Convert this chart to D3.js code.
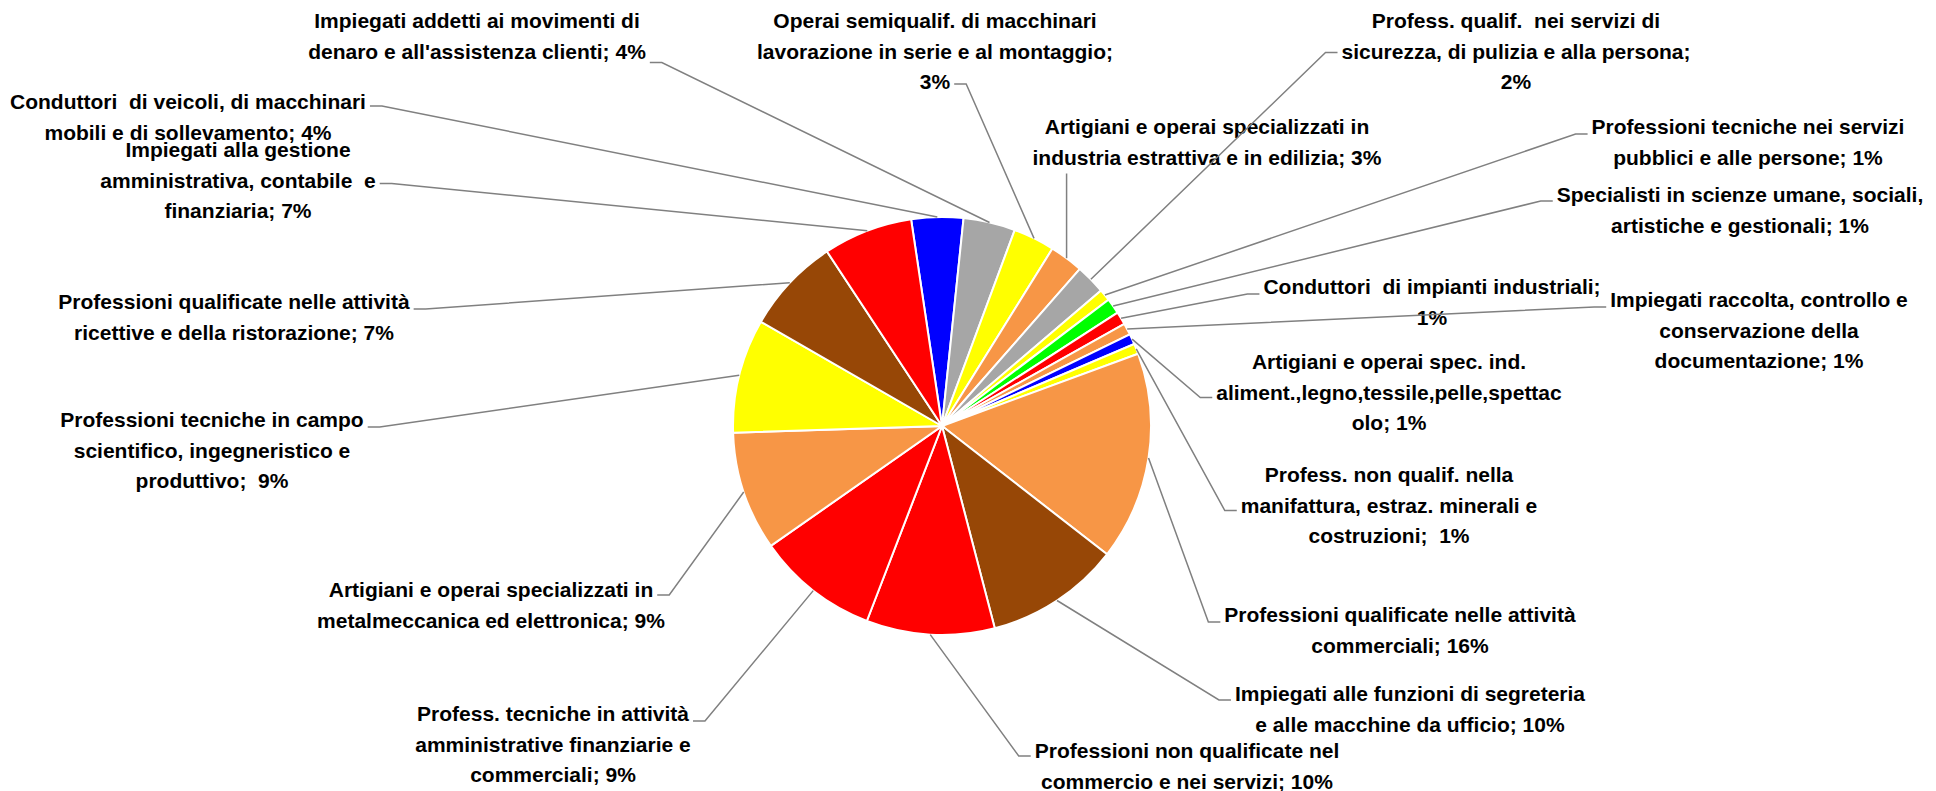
<!DOCTYPE html>
<html>
<head>
<meta charset="utf-8">
<script src="https://cdn.jsdelivr.net/npm/d3@7"></script>
<style>
  body { margin: 0; background: #fff; }
  .lbl { font-family: "Liberation Sans", Arial, sans-serif; font-weight: bold; font-size: 21px; fill: #000; white-space: pre; }
</style>
</head>
<body>
<svg id="chart" width="1936" height="791"></svg>
<script>
// categories, wrapped as in the original labels (the percentage is appended to the last line)
var labelLines = [
    ["Conduttori  di veicoli, di macchinari", "mobili e di sollevamento; "],
    ["Impiegati addetti ai movimenti di", "denaro e all'assistenza clienti; "],
    ["Operai semiqualif. di macchinari", "lavorazione in serie e al montaggio;", ""],
    ["Artigiani e operai specializzati in", "industria estrattiva e in edilizia; "],
    ["Profess. qualif.  nei servizi di", "sicurezza, di pulizia e alla persona;", ""],
    ["Professioni tecniche nei servizi", "pubblici e alle persone; "],
    ["Specialisti in scienze umane, sociali,", "artistiche e gestionali; "],
    ["Conduttori  di impianti industriali;", ""],
    ["Impiegati raccolta, controllo e", "conservazione della", "documentazione; "],
    ["Artigiani e operai spec. ind.", "aliment.,legno,tessile,pelle,spettac", "olo; "],
    ["Profess. non qualif. nella", "manifattura, estraz. minerali e", "costruzioni;  "],
    ["Professioni qualificate nelle attività", "commerciali; "],
    ["Impiegati alle funzioni di segreteria", "e alle macchine da ufficio; "],
    ["Professioni non qualificate nel", "commercio e nei servizi; "],
    ["Profess. tecniche in attività", "amministrative finanziarie e", "commerciali; "],
    ["Artigiani e operai specializzati in", "metalmeccanica ed elettronica; "],
    ["Professioni tecniche in campo", "scientifico, ingegneristico e", "produttivo;  "],
    ["Professioni qualificate nelle attività", "ricettive e della ristorazione; "],
    ["Impiegati alla gestione", "amministrativa, contabile  e", "finanziaria; "]
];

// share of each category (%)
var shares = [4.0, 4.0, 3.2, 2.6, 2.3, 0.9, 1.2, 1.0, 0.9, 0.8, 0.8,
              16.1, 10.4, 9.9, 9.4, 9.2, 8.8, 7.4, 6.9];

var sliceColors = ["#0000FF", "#A6A6A6", "#FFFF00", "#F79646", "#A6A6A6", "#FFFF00", "#00FF00",
                   "#FF0000", "#F79646", "#0000FF", "#FFFF00", "#F79646", "#974706", "#FF0000",
                   "#FF0000", "#F79646", "#FFFF00", "#974706", "#FF0000"];

// label placement: centre x, first line centre y, side the leader attaches to, line used, y offset
var labelPos = [
    [188, 102, "R", 0, 4],
    [477, 21, "R", 1, 11],
    [935, 21, "R", 2, 2],
    [1207, 127, "B", 1, 0],
    [1516, 21, "L", 1, 1],
    [1748, 127, "L", 0, 7],
    [1740, 195, "L", 0, 6],
    [1432, 287, "L", 0, 7],
    [1759, 300, "L", 0, 7],
    [1389, 362, "L", 1, 5],
    [1389, 475, "L", 1, 5],
    [1400, 615, "L", 0, 7],
    [1410, 694, "L", 0, 6],
    [1187, 751, "L", 0, 5],
    [553, 714, "R", 0, 7],
    [491, 590, "R", 0, 5],
    [212, 420, "R", 0, 7],
    [234, 302, "R", 0, 7],
    [238, 150, "R", 1, 3]
];

var svg = d3.select("#chart"),
    cx = 942,
    cy = 426,
    radius = 209,
    lineH = 30.5;

var start = -8.5 * Math.PI / 180;
var pie = d3.pie().sort(null).startAngle(start).endAngle(start + 2 * Math.PI);
var arc = d3.arc().innerRadius(0).outerRadius(radius);
var arcs = pie(shares);
var total = d3.sum(shares);

var gPie = svg.append("g").attr("transform", "translate(" + cx + "," + cy + ")");

gPie.selectAll("path")
    .data(arcs)
    .enter().append("path")
    .attr("d", arc)
    .style("fill", function (d, i) { return sliceColors[i]; })
    .style("stroke", "#fff")
    .style("stroke-width", 2);

// labels
var gLabels = svg.append("g");
var gLines = svg.append("g");

arcs.forEach(function (a, i) {
    var p = labelPos[i],
        lines = labelLines[i].slice();
    lines[lines.length - 1] += Math.round(a.value / total * 100) + "%";

    var g = gLabels.append("g");
    var texts = g.selectAll("text")
        .data(lines)
        .enter().append("text")
        .attr("class", "lbl")
        .attr("x", p[0])
        .attr("y", function (d, k) { return p[1] + k * lineH + 7; })
        .attr("text-anchor", "middle")
        .text(function (d) { return d; });

    var mid = (a.startAngle + a.endAngle) / 2,
        px = cx + radius * Math.sin(mid),
        py = cy - radius * Math.cos(mid);

    var pts;
    if (p[2] === "B") {
        var by = p[1] + (lines.length - 1) * lineH + 16;
        pts = [[px, by], [px, py]];
    } else {
        var w = texts.nodes()[p[3]].getComputedTextLength(),
            ty = p[1] + p[3] * lineH + p[4],
            dir = p[2] === "R" ? 1 : -1,
            ex = p[0] + dir * (w / 2 + 4);
        pts = [[ex, ty], [ex + dir * 12, ty], [px, py]];
    }

    gLines.append("path")
        .attr("d", d3.line()(pts))
        .style("fill", "none")
        .style("stroke", "#808080")
        .style("stroke-width", 1.5);
});
</script>
</body>
</html>
